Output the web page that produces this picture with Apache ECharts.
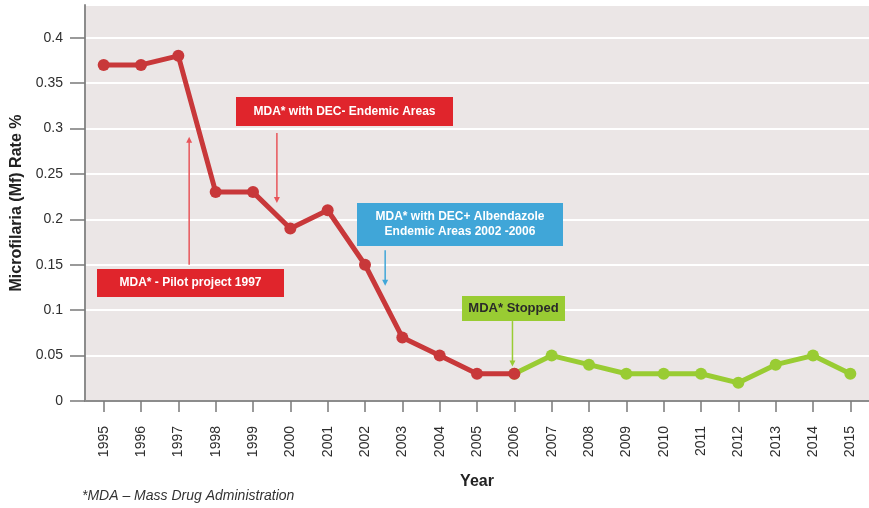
<!DOCTYPE html>
<html>
<head>
<meta charset="utf-8">
<script src="https://cdn.jsdelivr.net/npm/echarts@6/dist/echarts.min.js"></script>
<style>
  html, body { margin: 0; padding: 0; background: #ffffff; }
  #chart { width: 869px; height: 508px; }
</style>
</head>
<body>
<div id="chart"></div>
<script>
// Survey years
const years = ['1995', '1996', '1997', '1998', '1999', '2000', '2001', '2002', '2003',
  '2004', '2005', '2006', '2007', '2008', '2009', '2010', '2011', '2012', '2013', '2014', '2015'];

// Mf rate (%) during the mass drug administration years
const mfDuringMda = [0.37, 0.37, 0.38, 0.23, 0.23, 0.19, 0.21, 0.15, 0.07, 0.05, 0.03, 0.03,
  '-', '-', '-', '-', '-', '-', '-', '-', '-'];

// Mf rate (%) after mass drug administration stopped
const mfAfterMda = ['-', '-', '-', '-', '-', '-', '-', '-', '-', '-', '-', 0.03,
  0.05, 0.04, 0.03, 0.03, 0.03, 0.02, 0.04, 0.05, 0.03];

const FONT = '"Liberation Sans", Arial, sans-serif';
const RED_LINE = '#c8383a';
const GREEN = '#99cc33';

const chart = echarts.init(document.getElementById('chart'), null, { renderer: 'canvas' });

chart.setOption({
  animation: false,
  grid: {
    left: 85, right: -5, top: 5, bottom: 107,
    show: true, backgroundColor: '#ebe6e6', borderWidth: 0
  },
  xAxis: {
    type: 'category',
    data: years,
    boundaryGap: true,
    name: 'Year',
    nameLocation: 'middle',
    nameGap: 73,
    nameTextStyle: { fontFamily: FONT, fontSize: 16, fontWeight: 'bold', color: '#222', verticalAlign: 'top' },
    axisLine: { show: true, lineStyle: { color: '#8c8c8c', width: 2 } },
    axisTick: { show: true, alignWithLabel: true, length: 11, lineStyle: { color: '#7a7a7a', width: 1.5 } },
    axisLabel: { rotate: 90, margin: 25, fontFamily: FONT, fontSize: 14, color: '#2e2e2e', interval: 0 },
    splitLine: { show: false }
  },
  yAxis: {
    type: 'value',
    min: 0,
    max: 0.436,
    interval: 0.05,
    name: 'Microfilaria (Mf) Rate %',
    nameLocation: 'middle',
    nameRotate: 90,
    nameGap: 60,
    nameTextStyle: { fontFamily: FONT, fontSize: 16, fontWeight: 'bold', color: '#222' },
    axisLine: { show: true, lineStyle: { color: '#8c8c8c', width: 2 } },
    axisTick: { show: true, length: 15, lineStyle: { color: '#7a7a7a', width: 1.5 } },
    axisLabel: {
      margin: 22, fontFamily: FONT, fontSize: 14, color: '#2e2e2e', showMaxLabel: false,
      formatter: v => String(Math.round(v * 100) / 100)
    },
    splitLine: { show: true, lineStyle: { color: '#ffffff', width: 2 } }
  },
  series: [
    {
      name: 'After MDA',
      type: 'line',
      data: mfAfterMda,
      z: 2,
      symbol: 'circle',
      symbolSize: 12,
      lineStyle: { color: GREEN, width: 5 },
      itemStyle: { color: GREEN }
    },
    {
      name: 'During MDA',
      type: 'line',
      data: mfDuringMda,
      z: 3,
      symbol: 'circle',
      symbolSize: 12,
      lineStyle: { color: RED_LINE, width: 5 },
      itemStyle: { color: RED_LINE }
    }
  ]
});

// Position along the category axis for a fractional year index
function xAt(idx) {
  const i0 = Math.floor(idx);
  const p0 = chart.convertToPixel({ xAxisIndex: 0 }, i0);
  const p1 = chart.convertToPixel({ xAxisIndex: 0 }, i0 + 1);
  return p0 + (p1 - p0) * (idx - i0);
}
function yAt(v) {
  return chart.convertToPixel({ yAxisIndex: 0 }, v);
}

// Programme milestones: callout box plus an arrow pointing into the series
const callouts = [
  { lines: ['MDA* - Pilot project 1997'], fill: '#e0252c', text: '#ffffff', arrow: '#e8555a', size: 12,
    box: [97, 269, 187, 28], arrowIdx: 2.29, from: 0.15, to: 0.291 },
  { lines: ['MDA* with DEC- Endemic Areas'], fill: '#e0252c', text: '#ffffff', arrow: '#e8555a', size: 12,
    box: [236, 97, 217, 29], arrowIdx: 4.64, from: 0.295, to: 0.218 },
  { lines: ['MDA* with DEC+ Albendazole', 'Endemic Areas 2002 -2006'], fill: '#40a6d8', text: '#ffffff', arrow: '#40a6d8', size: 12,
    box: [357, 203, 206, 43], arrowIdx: 7.54, from: 0.166, to: 0.127 },
  { lines: ['MDA* Stopped'], fill: '#99cc33', text: '#2a2a2a', arrow: '#99cc33', size: 13,
    box: [462, 296, 103, 25], arrowIdx: 10.95, from: 0.088, to: 0.038 }
];

const graphics = [];
callouts.forEach(c => {
  const [bx, by, bw, bh] = c.box;
  graphics.push({
    type: 'rect', z: 10,
    shape: { x: bx, y: by, width: bw, height: bh },
    style: { fill: c.fill }
  });
  graphics.push({
    type: 'text', z: 11,
    x: bx + bw / 2, y: by + bh / 2,
    style: {
      text: c.lines.join('\n'), fill: c.text, align: 'center', verticalAlign: 'middle',
      font: 'bold ' + c.size + 'px ' + FONT, lineHeight: 15
    }
  });
  const ax = xAt(c.arrowIdx);
  const y0 = yAt(c.from), y1 = yAt(c.to);
  const dir = y1 > y0 ? 1 : -1;
  graphics.push({
    type: 'line', z: 10,
    shape: { x1: ax, y1: y0, x2: ax, y2: y1 - dir * 5 },
    style: { stroke: c.arrow, lineWidth: 1.5 }
  });
  graphics.push({
    type: 'polygon', z: 10,
    shape: { points: [[ax - 3, y1 - dir * 6], [ax + 3, y1 - dir * 6], [ax, y1]] },
    style: { fill: c.arrow }
  });
});

graphics.push({
  type: 'text', z: 11,
  left: 82, top: 489,
  style: { text: '*MDA \u2013 Mass Drug Administration', font: 'italic 14px ' + FONT, fill: '#333' }
});

chart.setOption({ graphic: graphics });
</script>
</body>
</html>
